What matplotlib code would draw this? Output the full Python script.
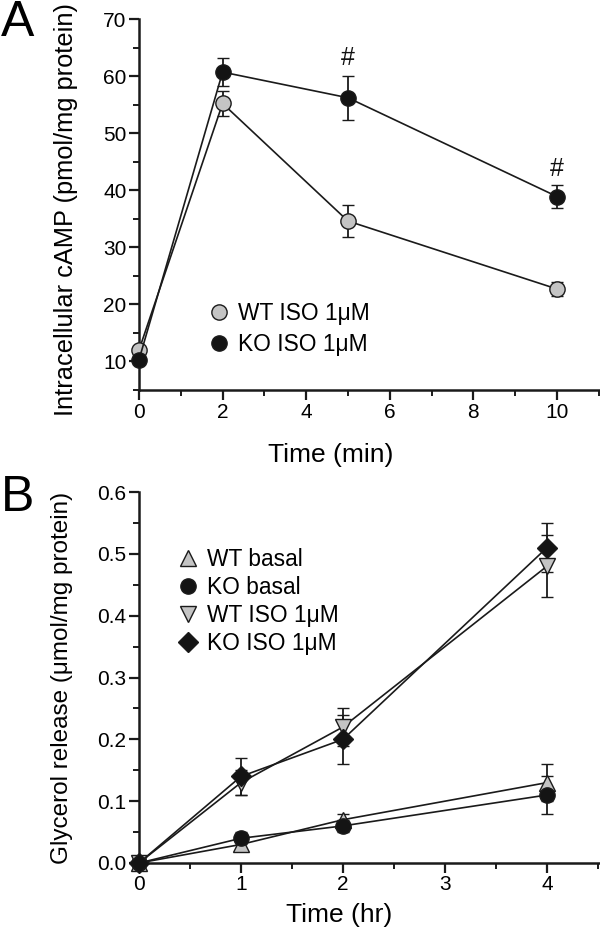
import matplotlib
matplotlib.use("Agg")
import matplotlib.pyplot as plt
from matplotlib.ticker import MultipleLocator
from matplotlib.lines import Line2D

plt.rcParams['font.family'] = ['Liberation Sans', 'DejaVu Sans']

# Panel A data
time_a = [0, 2, 5, 10]
wt_iso_a = [12.0, 55.2, 34.6, 22.7]
wt_iso_a_err = [0.0, 2.2, 2.8, 1.2]
ko_iso_a = [10.3, 60.7, 56.2, 38.9]
ko_iso_a_err = [0.0, 2.5, 3.9, 2.1]
sig_times_a = [5, 10]
sig_y_a = [63.2, 43.8]

# Panel B data
time_b = [0, 1, 2, 4]
wt_basal = [0.0, 0.03, 0.07, 0.13]
wt_basal_err = [0.0, 0.01, 0.01, 0.03]
ko_basal = [0.0, 0.04, 0.06, 0.11]
ko_basal_err = [0.0, 0.01, 0.01, 0.03]
wt_iso_b = [0.0, 0.13, 0.22, 0.48]
wt_iso_b_err = [0.0, 0.02, 0.03, 0.05]
ko_iso_b = [0.0, 0.14, 0.20, 0.51]
ko_iso_b_err = [0.0, 0.03, 0.04, 0.04]

W, H = 600, 936
fig = plt.figure(figsize=(W / 100, H / 100), dpi=100)

def px_axes(left, top, right, bottom):
    return fig.add_axes([left / W, 1 - bottom / H, (right - left) / W, (bottom - top) / H])

GRAY = '#c4c4c4'
BLACK = '#141414'
INK = '#1a1a1a'

def style(ax):
    for s in ['top', 'right']:
        ax.spines[s].set_visible(False)
    for s in ['left', 'bottom']:
        ax.spines[s].set_linewidth(1.8)
        ax.spines[s].set_color(INK)
    ax.tick_params(which='major', direction='out', length=7, width=1.6, labelsize=15, pad=2, color=INK)
    ax.tick_params(which='minor', direction='out', length=4, width=1.4, color=INK)

def series(ax, x, y, e, marker, face, ms):
    ax.errorbar(x, y, yerr=e, fmt='-', color=INK, lw=1.2, ecolor=INK,
                elinewidth=1.3, capsize=4, capthick=1.3, marker=marker, ms=ms,
                mfc=face, mec=INK, mew=1.0, clip_on=False, zorder=3)

def handle(marker, face, ms):
    return Line2D([], [], ls='none', marker=marker, ms=ms, mfc=face, mec=INK, mew=1.0)

# ---- Panel A
axA = px_axes(139, 19, 600, 390)
style(axA)
series(axA, time_a, wt_iso_a, wt_iso_a_err, 'o', GRAY, 11)
series(axA, time_a, ko_iso_a, ko_iso_a_err, 'o', BLACK, 11)
axA.set_xlim(0, 11.03)
axA.set_ylim(5, 70)
axA.xaxis.set_major_locator(MultipleLocator(2))
axA.xaxis.set_minor_locator(MultipleLocator(1))
axA.yaxis.set_major_locator(MultipleLocator(10))
axA.yaxis.set_minor_locator(MultipleLocator(5))
for t, yv in zip(sig_times_a, sig_y_a):
    axA.text(t, yv, '#', ha='center', va='center', fontsize=18, color='#111')
axA.legend([handle('o', GRAY, 11), handle('o', BLACK, 11)],
           ['WT ISO 1\u03bcM', 'KO ISO 1\u03bcM'],
           loc='upper left', bbox_to_anchor=(73 / 461, (390 - 302) / 371),
           frameon=False, fontsize=16.4, handlelength=0.6, handletextpad=0.55,
           labelspacing=0.33, borderaxespad=0, borderpad=0)
fig.text(66 / W, 1 - 210 / H, 'Intracellular cAMP (pmol/mg protein)', rotation=90,
         ha='center', va='center', fontsize=18.3)
fig.text(331 / W, 1 - 455 / H, 'Time (min)', ha='center', va='center', fontsize=19)
fig.text(1 / W, 1 - 0.5 / H, 'A', ha='left', va='top', fontsize=36)

# ---- Panel B
axB = px_axes(139, 492, 600, 863)
style(axB)
series(axB, time_b, wt_basal, wt_basal_err, '^', GRAY, 11)
series(axB, time_b, ko_basal, ko_basal_err, 'o', BLACK, 11)
series(axB, time_b, wt_iso_b, wt_iso_b_err, 'v', GRAY, 11)
series(axB, time_b, ko_iso_b, ko_iso_b_err, 'D', BLACK, 10)
axB.set_xlim(0, 4.52)
axB.set_ylim(0, 0.6)
axB.xaxis.set_major_locator(MultipleLocator(1))
axB.xaxis.set_minor_locator(MultipleLocator(0.5))
axB.yaxis.set_major_locator(MultipleLocator(0.1))
axB.yaxis.set_minor_locator(MultipleLocator(0.05))
axB.yaxis.set_major_formatter(plt.FormatStrFormatter('%.1f'))
axB.legend([handle('^', GRAY, 11), handle('o', BLACK, 11), handle('v', GRAY, 11), handle('D', BLACK, 10)],
           ['WT basal', 'KO basal', 'WT ISO 1\u03bcM', 'KO ISO 1\u03bcM'],
           loc='upper left', bbox_to_anchor=(42 / 461, (863 - 548) / 371),
           frameon=False, fontsize=16.4, handlelength=0.6, handletextpad=0.55,
           labelspacing=0.22, borderaxespad=0, borderpad=0)
fig.text(62 / W, 1 - 678 / H, 'Glycerol release (\u03bcmol/mg protein)', rotation=90,
         ha='center', va='center', fontsize=17.5)
fig.text(339 / W, 1 - 915 / H, 'Time (hr)', ha='center', va='center', fontsize=19)
fig.text(1 / W, 1 - 498 / H, 'B', ha='left', va='center', fontsize=36)

fig.savefig('out.png', dpi=100)
